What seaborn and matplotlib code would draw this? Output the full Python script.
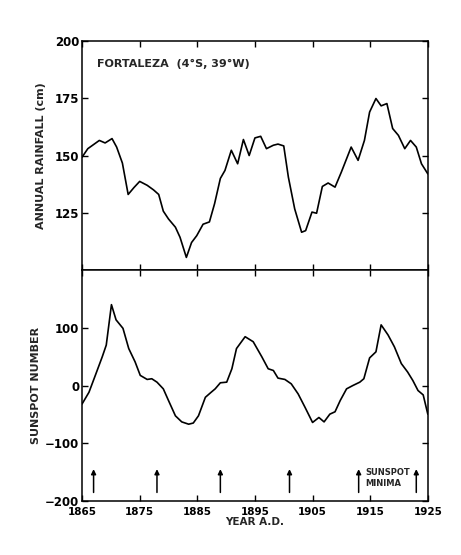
import seaborn as sns
import pandas as pd
import numpy as np
import matplotlib.pyplot as plt

# values
rain_year = [1865, 1866, 1868, 1869, 1870.2, 1871, 1872, 1873, 1874, 1875, 1876.3, 1877.4,
             1878.3, 1879.1, 1880, 1881.2, 1882, 1883.1, 1884, 1884.9, 1886, 1887.1, 1888,
             1889, 1889.8, 1890.9, 1892, 1893, 1894, 1895, 1896, 1897, 1898.2, 1899, 1900,
             1900.8, 1901.9, 1903.1, 1903.8, 1904.9, 1905.7, 1906.7, 1907.7, 1908.9, 1910,
             1911.7, 1912.9, 1914, 1914.9, 1916, 1916.9, 1917.9, 1918.9, 1919.9, 1921, 1922,
             1923, 1923.9, 1925]
rain_cm = [149.3, 153, 156.6, 155.5, 157.4, 153.7, 146.7, 133, 136, 138.7, 137, 135,
           133, 125.7, 122.3, 118.7, 114.3, 105.5, 112, 115, 120, 121, 129,
           140, 143.5, 152.3, 146.4, 157, 150, 157.7, 158.4, 153, 154.5, 155, 154.2,
           140.6, 126.7, 116.5, 117.2, 125.3, 124.8, 136.5, 138, 136.2, 142.8,
           153.7, 147.9, 156.6, 169, 174.9, 171.7, 172.7, 161.8, 158.8, 153, 156.6,
           153.7, 146.4, 142]

spot_year = [1865, 1866.2, 1867.3, 1868.5, 1869.2, 1870.1, 1870.9, 1872.1, 1873.1, 1874.2,
             1875.1, 1876.3, 1877.1, 1878, 1879.1, 1880, 1881.2, 1882.3, 1883.5, 1884.3,
             1885.2, 1886.4, 1887.4, 1888.1, 1889, 1890.1, 1891, 1891.8, 1893.3, 1894.7,
             1896.2, 1897.3, 1898.2, 1899, 1900.2, 1901.3, 1902.5, 1903.7, 1905, 1906.1,
             1907, 1908, 1908.9, 1909.8, 1910.9, 1912, 1913.2, 1913.9, 1914.9, 1916,
             1916.9, 1918.1, 1919.2, 1920.4, 1921.5, 1922.4, 1923.3, 1924.2, 1925]
spot_num = [-32, -11.7, 17.5, 49.6, 70, 140, 113.7, 99, 64, 41,
            17.5, 10.5, 11.7, 5.8, -5.8, -26, -52.5, -63, -67, -65,
            -52.5, -20.4, -11.7, -5.8, 4.7, 5.8, 29, 64, 84.5, 75.8,
            49.6, 29, 26, 12.8, 10.5, 2.9, -14.6, -37.9, -64, -55.4,
            -63, -49.6, -45.5, -26, -5.8, 0, 5.8, 11.7, 47.8, 58.3,
            105, 87.5, 67, 38, 23.3, 8.7, -8.7, -16.3, -49.6]

minima_years = [1867, 1878, 1889, 1901, 1913, 1923]
year_ticks = [1865, 1875, 1885, 1895, 1905, 1915, 1925]

rain = pd.DataFrame({'year': rain_year, 'rain': rain_cm})
spot = pd.DataFrame({'year': spot_year, 'spots': spot_num})

sns.set_style('ticks')
plt.rcParams['font.family'] = ['DejaVu Sans']
plt.rcParams['font.weight'] = 'bold'
plt.rcParams['font.size'] = 8

fig = plt.figure(figsize=(4.61, 5.55), dpi=100)
ax1 = fig.add_axes([0.178, 0.5135, 0.75, 0.4125])
ax2 = fig.add_axes([0.178, 0.0973, 0.75, 0.4162], sharex=ax1)

sns.lineplot(data=rain, x='year', y='rain', ax=ax1, color='black', lw=1.2)
sns.lineplot(data=spot, x='year', y='spots', ax=ax2, color='black', lw=1.2)

for ax in (ax1, ax2):
    ax.set_xlim(1865, 1925)
    for s in ax.spines.values():
        s.set_color('black')
        s.set_linewidth(1.1)
    ax.tick_params(direction='in', length=4, width=1, right=True, top=True,
                   colors='black')
    ax.tick_params(axis='y', labelsize=8.5, pad=2)
    ax.tick_params(axis='x', labelsize=7.5, pad=4)

ax1.set_ylim(100, 200)
ax1.set_yticks([125, 150, 175, 200])
ax1.set_xticks(year_ticks)
ax1.tick_params(labelbottom=False)
ax1.set_xlabel('')
ax1.set_ylabel('ANNUAL RAINFALL (cm)', fontsize=8, fontweight='bold', labelpad=6)
ax1.text(1867.6, 190, 'FORTALEZA  (4°S, 39°W)', fontsize=8, fontweight='bold', va='center')

ax2.set_ylim(-200, 200)
ax2.set_yticks([-200, -100, 0, 100])
ax2.set_xticks(year_ticks)
ax2.set_xlabel('YEAR A.D.', fontsize=7.5, fontweight='bold', labelpad=0)
ax2.set_ylabel('SUNSPOT NUMBER', fontsize=8, fontweight='bold', labelpad=3)

for yr in minima_years:
    ax2.annotate('', xy=(yr, -140), xytext=(yr, -190),
                 arrowprops=dict(arrowstyle='-|>', color='black', lw=1.1,
                                 mutation_scale=7))
ax2.text(1914.2, -160, 'SUNSPOT\nMINIMA', fontsize=6, fontweight='bold',
         va='center', linespacing=1.3)

fig.savefig('out.png', dpi=100)
